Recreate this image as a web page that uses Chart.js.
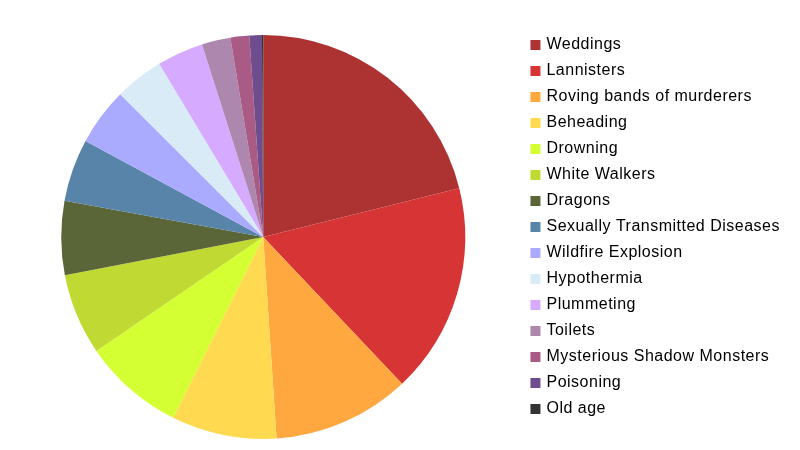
<!DOCTYPE html>
<html lang="en">
<head>
    <meta charset="UTF-8">
    <title>Causes of death</title>
    <script src="https://cdn.jsdelivr.net/npm/chart.js"></script>
    <style>
        html, body { margin: 0; padding: 0; background: #fff; }
        #wrap { width: 800px; height: 450px; }
    </style>
</head>
<body>
    <div id="wrap"><canvas id="myChart"></canvas></div>

    <script>
        const causes = [
            "Weddings", "Lannisters", "Roving bands of murderers", "Beheading",
            "Drowning", "White Walkers", "Dragons", "Sexually Transmitted Diseases",
            "Wildfire Explosion", "Hypothermia", "Plummeting", "Toilets",
            "Mysterious Shadow Monsters", "Poisoning", "Old age"
        ];
        const shares = [21.1, 16.8, 11.0, 8.4, 8.1, 6.5, 5.9, 5.0, 4.6, 3.9, 3.7, 2.3, 1.5, 1.0, 0.1];
        const colors = [
            "#ad3333", "#d73535", "#ffa83f", "#ffd94f", "#d4ff33", "#c0da33", "#5a6637",
            "#5884aa", "#aaaaff", "#d9ebf7", "#d5aaff", "#ae87ae", "#aa5b85", "#6e4c8e", "#333333"
        ];

        // a bit of letter spacing so the legend text is as wide as in the original
        const spacing = {
            id: "spacing",
            beforeLayout(chart) { chart.ctx.letterSpacing = "0.5px"; },
            beforeDraw(chart) { chart.ctx.letterSpacing = "0.5px"; }
        };

        const defaultLabels = Chart.overrides.pie.plugins.legend.labels.generateLabels;

        new Chart(document.getElementById("myChart"), {
            type: "pie",
            data: {
                labels: causes,
                datasets: [{
                    data: shares,
                    backgroundColor: colors,
                    borderWidth: 0,
                    radius: 202
                }]
            },
            options: {
                responsive: true,
                maintainAspectRatio: false,
                animation: false,
                layout: { padding: { top: 27, bottom: 3, left: 4, right: 10 } },
                plugins: {
                    tooltip: { enabled: false },
                    legend: {
                        position: "right",
                        align: "start",
                        labels: {
                            // small box + thick stroke of the same colour: 10px square, text closer to it
                            boxWidth: 6,
                            boxHeight: 6,
                            padding: 10,
                            color: "#000",
                            font: { family: "'Liberation Sans', Arial, sans-serif", size: 16 },
                            generateLabels(chart) {
                                return defaultLabels(chart).map(item => {
                                    item.lineWidth = 4;
                                    item.strokeStyle = item.fillStyle;
                                    return item;
                                });
                            }
                        }
                    }
                }
            },
            plugins: [spacing]
        });
    </script>
</body>
</html>
